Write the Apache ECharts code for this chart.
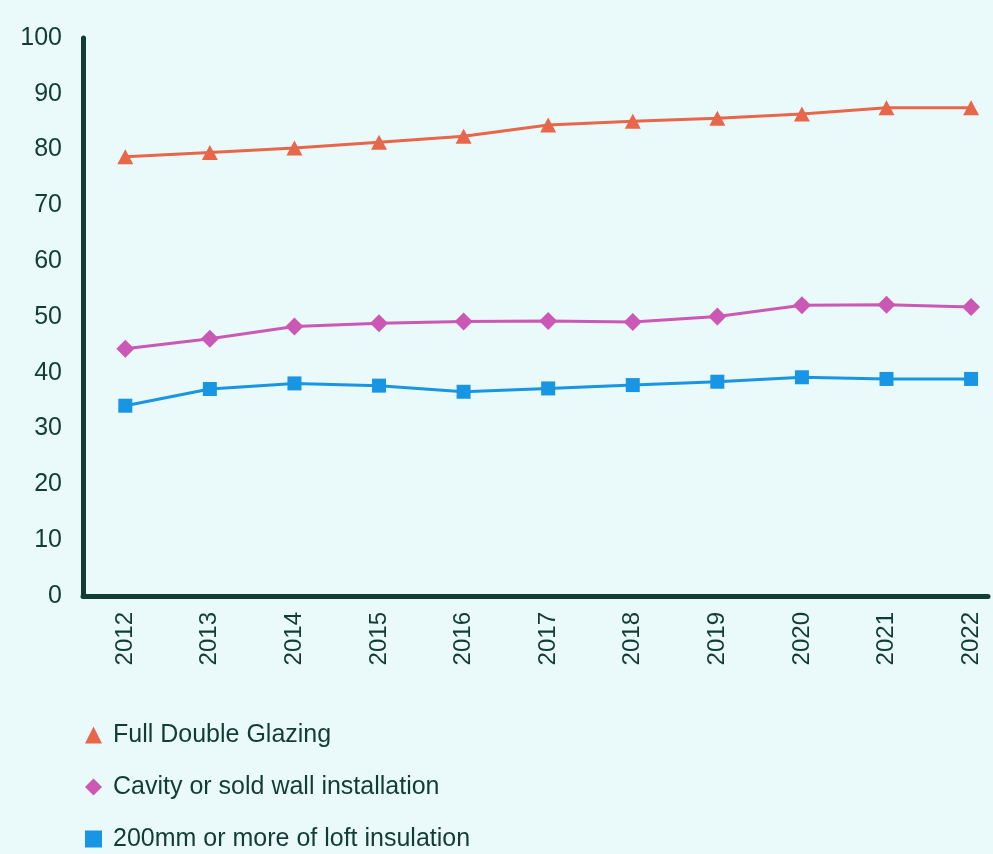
<!DOCTYPE html>
<html>
<head>
<meta charset="utf-8">
<script src="https://cdn.jsdelivr.net/npm/echarts@6/dist/echarts.min.js"></script>
<style>
html,body{margin:0;padding:0;background:#EAF9FA;}
#c{width:993px;height:854px;}
</style>
</head>
<body>
<div id="c"></div>
<script>
const years = [2012, 2013, 2014, 2015, 2016, 2017, 2018, 2019, 2020, 2021, 2022];
const seriesNames = ['Full Double Glazing', 'Cavity or sold wall installation', '200mm or more of loft insulation'];
const glazing = [78.7, 79.5, 80.3, 81.3, 82.4, 84.4, 85.1, 85.6, 86.4, 87.5, 87.5];
const cavity = [44.3, 46.1, 48.3, 48.9, 49.2, 49.3, 49.1, 50.1, 52.1, 52.2, 51.8];
const loft = [34.1, 37.1, 38.1, 37.7, 36.6, 37.2, 37.8, 38.4, 39.2, 38.9, 38.9];
const yTicks = [0, 10, 20, 30, 40, 50, 60, 70, 80, 90, 100];

const textColor = '#113D33';
const font = "'Liberation Sans', Arial, sans-serif";
const pairs = arr => years.map((y, i) => [y, arr[i]]);

const chart = echarts.init(document.getElementById('c'));
chart.setOption({
  backgroundColor: '#EAF9FA',
  animation: false,
  textStyle: { fontFamily: font },
  grid: { left: 83, right: 5, top: 38, bottom: 258, containLabel: false },
  xAxis: {
    type: 'value',
    min: 2011.5,
    max: 2022.2,
    splitLine: { show: false },
    axisLine: { show: true, lineStyle: { color: textColor, width: 5 } },
    axisTick: { show: false },
    axisLabel: {
      customValues: years,
      rotate: 90,
      margin: 16,
      color: textColor,
      fontSize: 24,
      fontFamily: font,
      formatter: v => String(v)
    }
  },
  yAxis: {
    type: 'value',
    min: yTicks[0],
    max: yTicks[yTicks.length - 1],
    interval: 10,
    splitLine: { show: false },
    axisLine: { show: true, lineStyle: { color: textColor, width: 5 } },
    axisTick: { show: false },
    axisLabel: { color: textColor, fontSize: 25, margin: 21, fontFamily: font }
  },
  legend: {
    orient: 'vertical',
    left: 85,
    top: 722,
    height: 300,
    padding: 0,
    itemWidth: 17,
    itemHeight: 17,
    itemGap: 26,
    textStyle: { color: textColor, fontSize: 25, lineHeight: 26, fontFamily: font, padding: [0, 0, 0, 6] },
    data: [
      { name: seriesNames[0], icon: 'triangle' },
      { name: seriesNames[1], icon: 'diamond' },
      { name: seriesNames[2], icon: 'rect' }
    ]
  },
  series: [
    {
      name: seriesNames[0], type: 'line', data: pairs(glazing),
      symbol: 'triangle', symbolSize: [16, 15],
      itemStyle: { color: '#E8664A' },
      lineStyle: { color: '#E8664A', width: 3 }
    },
    {
      name: seriesNames[1], type: 'line', data: pairs(cavity),
      symbol: 'diamond', symbolSize: [18, 18],
      itemStyle: { color: '#CC58B6' },
      lineStyle: { color: '#CC58B6', width: 3 }
    },
    {
      name: seriesNames[2], type: 'line', data: pairs(loft),
      symbol: 'rect', symbolSize: [14, 14],
      itemStyle: { color: '#1996E3' },
      lineStyle: { color: '#1996E3', width: 3 }
    }
  ]
});
</script>
</body>
</html>
